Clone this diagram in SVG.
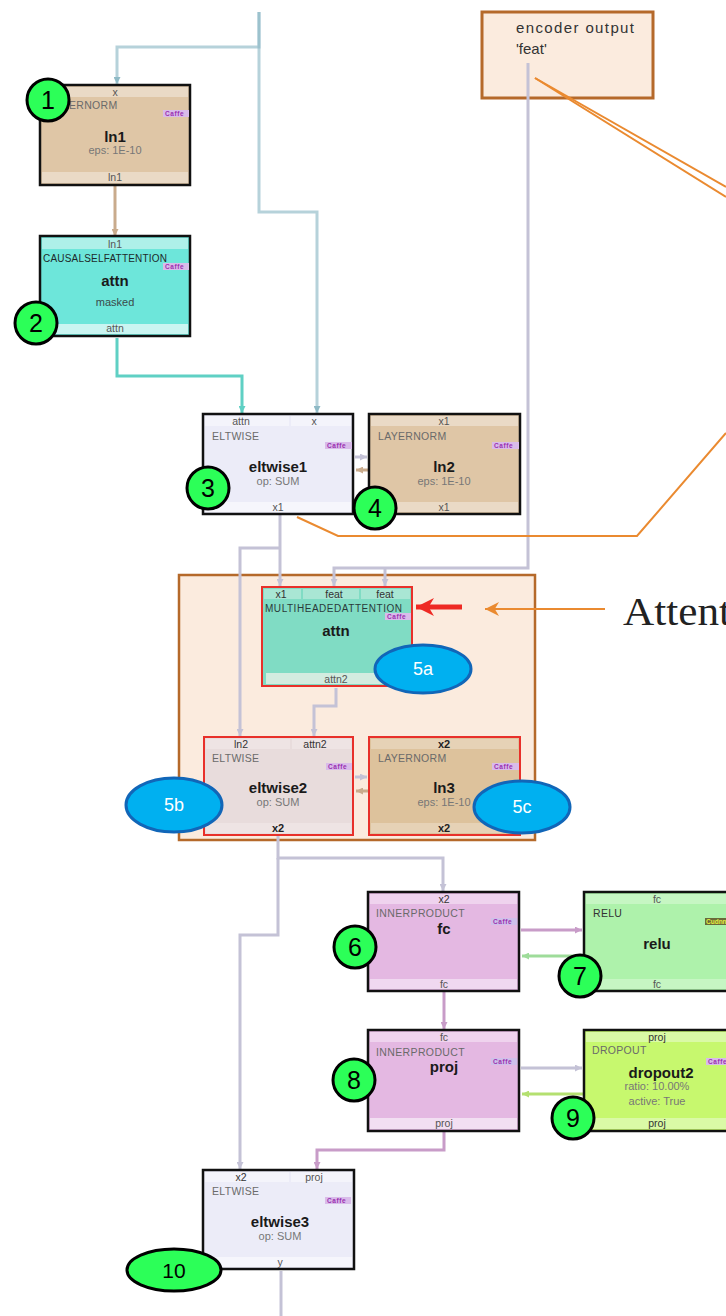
<svg xmlns="http://www.w3.org/2000/svg" width="726" height="1316" viewBox="0 0 726 1316">
<style>
text{font-family:"Liberation Sans",Arial,sans-serif}
.body{stroke:#111;stroke-width:2.5}
.red{stroke:#e8302a;stroke-width:2}
.p{font-size:10.5px;fill:#555;text-anchor:middle}
.pb{font-size:11px;fill:#222;font-weight:bold;text-anchor:middle}
.t{font-size:10.5px;fill:#6a6a6a;letter-spacing:0.3px}
.nm{font-size:15px;font-weight:bold;fill:#1a1a1a;text-anchor:middle}
.pr{font-size:11px;fill:#777;text-anchor:middle}
.tagr{fill:#d9bbea}
.tag{font-size:6.5px;font-weight:bold;fill:#9a30b0;letter-spacing:0.6px}
.badge{fill:#2cff58;stroke:#000;stroke-width:3}
.bnum{font-size:25px;fill:#000;text-anchor:middle}
.blue{fill:#00b0f0;stroke:#1166b8;stroke-width:3}
.bl{font-size:18px;fill:#fff;text-anchor:middle}
.c{fill:none;stroke-width:3}
.or{fill:none;stroke:#ea8a30;stroke-width:2}
.serif{font-family:"Liberation Serif","Times New Roman",serif;font-size:41px;fill:#222}
</style>
<defs>
<marker id="aTeal" viewBox="0 0 8 8" refX="8" refY="4" markerWidth="7" markerHeight="7" markerUnits="userSpaceOnUse" orient="auto"><path d="M0,0L8,4L0,8z" fill="#8fbac6"/></marker>
<marker id="aTan" viewBox="0 0 8 8" refX="8" refY="4" markerWidth="7" markerHeight="7" markerUnits="userSpaceOnUse" orient="auto"><path d="M0,0L8,4L0,8z" fill="#c9ab8c"/></marker>
<marker id="aTurq" viewBox="0 0 8 8" refX="8" refY="4" markerWidth="7" markerHeight="7" markerUnits="userSpaceOnUse" orient="auto"><path d="M0,0L8,4L0,8z" fill="#5fd0c4"/></marker>
<marker id="aGray" viewBox="0 0 8 8" refX="8" refY="4" markerWidth="7" markerHeight="7" markerUnits="userSpaceOnUse" orient="auto"><path d="M0,0L8,4L0,8z" fill="#c4c2d6"/></marker>
<marker id="aPink" viewBox="0 0 8 8" refX="8" refY="4" markerWidth="7" markerHeight="7" markerUnits="userSpaceOnUse" orient="auto"><path d="M0,0L8,4L0,8z" fill="#c89cc8"/></marker>
<marker id="aGreen" viewBox="0 0 8 8" refX="8" refY="4" markerWidth="7" markerHeight="7" markerUnits="userSpaceOnUse" orient="auto"><path d="M0,0L8,4L0,8z" fill="#9edc9a"/></marker>
<marker id="aLime" viewBox="0 0 8 8" refX="8" refY="4" markerWidth="7" markerHeight="7" markerUnits="userSpaceOnUse" orient="auto"><path d="M0,0L8,4L0,8z" fill="#b4e070"/></marker>
<marker id="aOr" viewBox="0 0 10 10" refX="10" refY="5" markerWidth="16" markerHeight="14" markerUnits="userSpaceOnUse" orient="auto"><path d="M0,0L10,5L0,10L3,5z" fill="#ea8a30"/></marker>
<marker id="aRed" viewBox="0 0 10 10" refX="10" refY="5" markerWidth="20" markerHeight="18" markerUnits="userSpaceOnUse" orient="auto"><path d="M0,0L10,5L0,10L3,5z" fill="#ee2a24"/></marker>
</defs>

<rect width="726" height="1316" fill="#fff"/>

<g id="encoder-output">
<rect x="482" y="12" width="171" height="86" fill="#fbebde" stroke="#b5692a" stroke-width="3"/>
<text x="516" y="33" font-size="15" fill="#333" textLength="118">encoder output</text>
<text x="516" y="54" font-size="15" fill="#333">'feat'</text>
</g>

<g id="attention-block">
<rect x="179" y="575" width="356" height="265" fill="#fbebde" stroke="#b5692a" stroke-width="2.5"/>
</g>

<g id="connectors">
<path class="c" d="M259,12V47H117V84" stroke="#8fbac6" stroke-opacity="0.65" marker-end="url(#aTeal)"/>
<path class="c" d="M259,12V212H317V413" stroke="#8fbac6" stroke-opacity="0.65" marker-end="url(#aTeal)"/>
<path class="c" d="M115,186V236" stroke="#c9ab8c" marker-end="url(#aTan)"/>
<path class="c" d="M117,338V376H242V413" stroke="#5fd0c4" marker-end="url(#aTurq)"/>
<path class="c" d="M280,515V586" stroke="#c4c2d6" marker-end="url(#aGray)"/>
<path class="c" d="M280,548H240V736" stroke="#c4c2d6" marker-end="url(#aGray)"/>
<path class="c" d="M528,63V568H334V586" stroke="#c4c2d6" marker-end="url(#aGray)"/>
<path class="c" d="M385,568V586" stroke="#c4c2d6" marker-end="url(#aGray)"/>
<path class="c" d="M336,688V706H314V736" stroke="#c4c2d6" marker-end="url(#aGray)"/>
<path class="c" d="M278,836V858H443V891" stroke="#c4c2d6" marker-end="url(#aGray)"/>
<path class="c" d="M278,858V935H240V1169" stroke="#c4c2d6" marker-end="url(#aGray)"/>
<path class="c" d="M444,992V1029" stroke="#c89cc8" marker-end="url(#aPink)"/>
<path class="c" d="M444,1132V1150H317V1169" stroke="#c89cc8" marker-end="url(#aPink)"/>
<path class="c" d="M281,1271V1316" stroke="#c4c2d6"/>
<path class="c" d="M355,457H367" stroke="#c4c2d6" marker-end="url(#aGray)"/>
<path class="c" d="M368,470H356" stroke="#c9ab8c" marker-end="url(#aTan)"/>
<path class="c" d="M355,777H367" stroke="#c4c2d6" marker-end="url(#aGray)"/>
<path class="c" d="M368,791H356" stroke="#c9ab8c" marker-end="url(#aTan)"/>
<path class="c" d="M521,930H582" stroke="#c89cc8" marker-end="url(#aPink)"/>
<path class="c" d="M583,956H522" stroke="#9edc9a" marker-end="url(#aGreen)"/>
<path class="c" d="M521,1068H582" stroke="#c4c2d6" marker-end="url(#aGray)"/>
<path class="c" d="M583,1094H522" stroke="#b4e070" marker-end="url(#aLime)"/>
</g>

<g id="ln1">
<rect class="body" x="40" y="85" width="150" height="100" fill="#dfc6a6"/>
<rect x="42" y="87" width="146" height="10" fill="#eadac6"/>
<rect x="42" y="172" width="146" height="11" fill="#eadac6"/>
<text class="p" x="115" y="96">x</text>
<text class="t" x="49" y="109">LAYERNORM</text>
<rect class="tagr" x="163" y="110" width="26" height="7"/><text class="tag" x="165" y="116">Caffe</text>
<text class="nm" x="115" y="142">ln1</text>
<text class="pr" x="115" y="154">eps: 1E-10</text>
<text class="p" x="115" y="181">ln1</text>
</g>

<g id="attn-causal">
<rect class="body" x="40" y="236" width="150" height="100" fill="#6de6da"/>
<rect x="42" y="238" width="146" height="11" fill="#aef0e9"/>
<rect x="42" y="324" width="146" height="10" fill="#caf5f1"/>
<text class="p" x="115" y="248">ln1</text>
<text x="43" y="262" font-size="10" fill="#1e2a2a" textLength="124">CAUSALSELFATTENTION</text>
<rect class="tagr" x="163" y="263" width="26" height="7"/><text class="tag" x="165" y="269">Caffe</text>
<text class="nm" x="115" y="286">attn</text>
<text class="pr" x="115" y="306" style="fill:#3a4a4a">masked</text>
<text class="p" x="115" y="332">attn</text>
</g>

<g id="eltwise1">
<rect class="body" x="203" y="414" width="150" height="100" fill="#ececf8"/>
<rect x="205" y="416" width="84" height="10" fill="#f4f4fb"/>
<rect x="291" y="416" width="60" height="10" fill="#f4f4fb"/>
<rect x="205" y="502" width="146" height="10" fill="#f6f6fc"/>
<text class="p" x="241" y="425">attn</text>
<text class="p" x="314" y="425">x</text>
<text class="t" x="212" y="440">ELTWISE</text>
<rect class="tagr" x="325" y="442" width="27" height="7"/><text class="tag" x="327" y="448">Caffe</text>
<text class="nm" x="278" y="472">eltwise1</text>
<text class="pr" x="278" y="485">op: SUM</text>
<text class="p" x="278" y="511">x1</text>
</g>

<g id="ln2">
<rect class="body" x="369" y="414" width="151" height="100" fill="#dfc6a6"/>
<rect x="371" y="416" width="147" height="10" fill="#eadac6"/>
<rect x="371" y="502" width="147" height="10" fill="#eadac6"/>
<text class="p" x="444" y="425">x1</text>
<text class="t" x="378" y="440">LAYERNORM</text>
<rect class="tagr" x="492" y="442" width="27" height="7"/><text class="tag" x="494" y="448">Caffe</text>
<text class="nm" x="444" y="472">ln2</text>
<text class="pr" x="444" y="485">eps: 1E-10</text>
<text class="p" x="444" y="511">x1</text>
</g>

<g id="attn-mha">
<rect class="red" x="262" y="587" width="150" height="99" fill="#80dcc4"/>
<rect x="264" y="589" width="37" height="10" fill="#a9e6d4"/>
<rect x="303" y="589" width="56" height="10" fill="#a9e6d4"/>
<rect x="361" y="589" width="49" height="10" fill="#a9e6d4"/>
<rect x="266" y="673" width="144" height="11" fill="#d3ece0"/>
<text class="p" x="281" y="598" style="fill:#333">x1</text>
<text class="p" x="334" y="598" style="fill:#333">feat</text>
<text class="p" x="385" y="598" style="fill:#333">feat</text>
<text x="265" y="612" font-size="10" fill="#2a3a3a" textLength="137">MULTIHEADEDATTENTION</text>
<rect class="tagr" x="385" y="613" width="26" height="7"/><text class="tag" x="387" y="619">Caffe</text>
<text class="nm" x="336" y="636">attn</text>
<text class="p" x="336" y="683">attn2</text>
</g>

<g id="eltwise2">
<rect class="red" x="204" y="737" width="149" height="98" fill="#e8dcdc"/>
<rect x="206" y="739" width="84" height="10" fill="#eee4e4"/>
<rect x="292" y="739" width="59" height="10" fill="#eee4e4"/>
<rect x="206" y="823" width="145" height="10" fill="#eee4e4"/>
<text class="p" x="241" y="748" style="fill:#333">ln2</text>
<text class="p" x="315" y="748" style="fill:#333">attn2</text>
<text class="t" x="212" y="762">ELTWISE</text>
<rect class="tagr" x="326" y="763" width="26" height="7"/><text class="tag" x="328" y="769">Caffe</text>
<text class="nm" x="278" y="793">eltwise2</text>
<text class="pr" x="278" y="806">op: SUM</text>
<text class="pb" x="278" y="832">x2</text>
</g>

<g id="ln3">
<rect class="red" x="369" y="737" width="151" height="98" fill="#ddc29c"/>
<rect x="371" y="739" width="147" height="10" fill="#e6d2b6"/>
<rect x="371" y="823" width="147" height="10" fill="#e6d2b6"/>
<text class="pb" x="444" y="748">x2</text>
<text class="t" x="378" y="762">LAYERNORM</text>
<rect class="tagr" x="492" y="763" width="27" height="7"/><text class="tag" x="494" y="769">Caffe</text>
<text class="nm" x="444" y="793">ln3</text>
<text class="pr" x="444" y="806">eps: 1E-10</text>
<text class="pb" x="444" y="832">x2</text>
</g>

<g id="fc">
<rect class="body" x="368" y="892" width="151" height="99" fill="#e4b8e2"/>
<rect x="370" y="894" width="147" height="10" fill="#efd3ee"/>
<rect x="370" y="979" width="147" height="10" fill="#f0d8f0"/>
<text class="p" x="444" y="903" style="fill:#333">x2</text>
<text class="t" x="376" y="917" textLength="89">INNERPRODUCT</text>
<rect class="tagr" x="491" y="918" width="26" height="7" style="fill:#cfc0ea"/><text class="tag" x="493" y="924">Caffe</text>
<text class="nm" x="444" y="934">fc</text>
<text class="p" x="444" y="988">fc</text>
</g>

<g id="relu">
<rect class="body" x="584" y="892" width="150" height="99" fill="#aef2ab"/>
<rect x="586" y="894" width="146" height="10" fill="#c6f6c3"/>
<rect x="586" y="979" width="146" height="10" fill="#c6f6c3"/>
<text class="p" x="657" y="903">fc</text>
<text class="t" x="593" y="917" style="fill:#333">RELU</text>
<rect x="705" y="918" width="24" height="7" fill="#6a6a3a"/><text x="706" y="924" font-size="6.5" font-weight="bold" fill="#e8f040">Cudnn</text>
<text class="nm" x="657" y="949">relu</text>
<text class="p" x="657" y="988">fc</text>
</g>

<g id="proj">
<rect class="body" x="368" y="1030" width="151" height="101" fill="#e4b8e2"/>
<rect x="370" y="1032" width="147" height="10" fill="#efd3ee"/>
<rect x="370" y="1118" width="147" height="11" fill="#f2dff2"/>
<text class="p" x="444" y="1041">fc</text>
<text class="t" x="376" y="1056" textLength="89">INNERPRODUCT</text>
<rect class="tagr" x="491" y="1058" width="26" height="7" style="fill:#cfc0ea"/><text class="tag" x="493" y="1064">Caffe</text>
<text class="nm" x="444" y="1072">proj</text>
<text class="p" x="444" y="1127">proj</text>
</g>

<g id="dropout2">
<rect class="body" x="584" y="1030" width="150" height="101" fill="#c7f86e"/>
<rect x="586" y="1032" width="146" height="10" fill="#dafaa6"/>
<rect x="586" y="1118" width="146" height="11" fill="#dafaa6"/>
<text class="p" x="657" y="1041" style="fill:#333">proj</text>
<text class="t" x="592" y="1054">DROPOUT</text>
<rect class="tagr" x="706" y="1058" width="24" height="7"/><text class="tag" x="708" y="1064">Caffe</text>
<text class="nm" x="661" y="1078">dropout2</text>
<text class="pr" x="657" y="1090">ratio: 10.00%</text>
<text class="pr" x="657" y="1105">active: True</text>
<text class="p" x="657" y="1127" style="fill:#333">proj</text>
</g>

<g id="eltwise3">
<rect class="body" x="203" y="1170" width="151" height="99" fill="#ececf8"/>
<rect x="205" y="1172" width="84" height="10" fill="#f4f4fb"/>
<rect x="291" y="1172" width="61" height="10" fill="#f4f4fb"/>
<rect x="205" y="1257" width="147" height="10" fill="#f6f6fc"/>
<text class="p" x="241" y="1181" style="fill:#333">x2</text>
<text class="p" x="314" y="1181">proj</text>
<text class="t" x="212" y="1195">ELTWISE</text>
<rect class="tagr" x="325" y="1197" width="26" height="7"/><text class="tag" x="327" y="1203">Caffe</text>
<text class="nm" x="280" y="1227">eltwise3</text>
<text class="pr" x="280" y="1240">op: SUM</text>
<text class="p" x="280" y="1266">y</text>
</g>

<g id="annotations">
<path class="or" d="M535,78L726,187"/>
<path class="or" d="M535,78L726,197"/>
<path class="or" d="M297,517L338,536H637L726,433"/>
<path d="M605,609H485" fill="none" stroke="#ea8a30" stroke-width="2" marker-end="url(#aOr)"/>
<path d="M462,607H416" fill="none" stroke="#ee2a24" stroke-width="5" marker-end="url(#aRed)"/>
<text class="serif" x="623" y="625" textLength="108" lengthAdjust="spacingAndGlyphs">Attent</text>
</g>

<g id="badge-1"><circle class="badge" cx="48" cy="100" r="21"/><text class="bnum" x="48" y="109">1</text></g>
<g id="badge-2"><circle class="badge" cx="36" cy="323" r="21"/><text class="bnum" x="36" y="332">2</text></g>
<g id="badge-3"><circle class="badge" cx="208" cy="488" r="21"/><text class="bnum" x="208" y="497">3</text></g>
<g id="badge-4"><circle class="badge" cx="375" cy="508" r="21"/><text class="bnum" x="375" y="517">4</text></g>
<g id="badge-5a"><ellipse class="blue" cx="423" cy="669" rx="48" ry="24"/><text class="bl" x="423" y="675">5a</text></g>
<g id="badge-5b"><ellipse class="blue" cx="174" cy="805" rx="48" ry="27"/><text class="bl" x="174" y="811">5b</text></g>
<g id="badge-5c"><ellipse class="blue" cx="522" cy="807" rx="48" ry="26"/><text class="bl" x="522" y="813">5c</text></g>
<g id="badge-6"><circle class="badge" cx="355" cy="947" r="21"/><text class="bnum" x="355" y="956">6</text></g>
<g id="badge-7"><circle class="badge" cx="580" cy="976" r="21"/><text class="bnum" x="580" y="985">7</text></g>
<g id="badge-8"><circle class="badge" cx="354" cy="1080" r="21"/><text class="bnum" x="354" y="1089">8</text></g>
<g id="badge-9"><circle class="badge" cx="573" cy="1118" r="21"/><text class="bnum" x="573" y="1127">9</text></g>
<g id="badge-10"><ellipse class="badge" cx="174" cy="1270" rx="47" ry="21"/><text class="bnum" x="174" y="1278" style="font-size:21px">10</text></g>
</svg>
